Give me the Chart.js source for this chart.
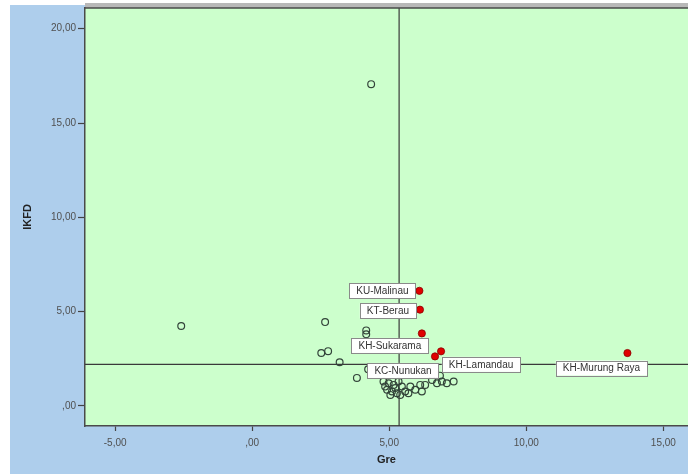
<!DOCTYPE html>
<html>
<head>
<meta charset="utf-8">
<script src="https://cdn.jsdelivr.net/npm/chart.js@4/dist/chart.umd.min.js"></script>
<style>
  html, body { margin: 0; padding: 0; background: #fff; overflow: hidden; }
  canvas { display: block; }
</style>
</head>
<body>
<canvas id="myChartScatter" width="688" height="474"></canvas>
<script>
// ordinary cases (hollow markers)
var greValues = [4.34, -2.59, 2.66, 4.16, 4.16, 2.52, 2.77, 3.19, 3.82, 4.23,
    4.79, 4.98, 4.92, 5.10, 5.22, 5.28, 5.46, 5.58, 5.77, 5.95,
    6.13, 6.31, 6.56, 6.74, 6.92, 7.10, 7.35, 5.34, 5.16, 5.04,
    5.40, 5.70, 6.19, 4.85, 6.85];
var ikfdValues = [17.06, 4.23, 4.44, 4.00, 3.80, 2.80, 2.90, 2.31, 1.48, 1.94,
    1.29, 1.20, 0.85, 0.76, 0.94, 0.67, 1.02, 0.76, 1.02, 0.85,
    1.11, 1.11, 1.37, 1.20, 1.29, 1.20, 1.29, 1.29, 1.11, 0.58,
    0.58, 0.67, 0.76, 1.02, 1.60];

// labelled cases (red markers)
var labelNames = ['KU-Malinau', 'KT-Berau', 'KH-Sukarama', 'KC-Nunukan', 'KH-Lamandau', 'KH-Murung Raya'];
var labelGre = [6.10, 6.12, 6.19, 6.67, 6.89, 13.69];
var labelIkfd = [6.10, 5.10, 3.84, 2.62, 2.89, 2.80];

// reference lines (means)
var meanGre = 5.36;
var meanIkfd = 2.20;

var xTickValues = [-5, 0, 5, 10, 15];
var xTickLabels = ['-5,00', ',00', '5,00', '10,00', '15,00'];
var yTickValues = [0, 5, 10, 15, 20];
var yTickLabels = [',00', '5,00', '10,00', '15,00', '20,00'];

var xMin = -6.1, xMax = 15.9, yMin = -1.07, yMax = 21.1;

// where each label box sits relative to its point (px)
var labelOffsets = [[-37, 0], [-32, 1], [-32, 12], [-32, 14], [40, 13], [-26, 15]];

var toPoints = function (xs, ys) {
    return xs.map(function (x, i) { return { x: x, y: ys[i] }; });
};

var backgroundPlugin = {
    id: 'spssBackground',
    beforeDraw: function (chart) {
        var ctx = chart.ctx, a = chart.chartArea;
        ctx.save();
        ctx.fillStyle = '#ffffff';
        ctx.fillRect(0, 0, chart.width, chart.height);
        ctx.fillStyle = '#AECEEC';
        ctx.fillRect(10, 5, chart.width - 10, chart.height - 5);
        ctx.fillStyle = '#CCFFCC';
        ctx.fillRect(a.left, a.top, a.right - a.left, a.bottom - a.top);
        ctx.fillStyle = '#b8b8b8';
        ctx.fillRect(a.left, a.top - 5, a.right - a.left, 5);
        ctx.restore();
    },
    afterDraw: function (chart) {
        var ctx = chart.ctx, a = chart.chartArea;
        ctx.save();
        ctx.strokeStyle = '#4a4a4a';
        ctx.lineWidth = 1.5;
        ctx.beginPath();
        ctx.moveTo(a.left, a.top);
        ctx.lineTo(a.right, a.top);
        ctx.stroke();
        ctx.restore();
    }
};

var labelPlugin = {
    id: 'caseLabels',
    afterDatasetsDraw: function (chart) {
        var ctx = chart.ctx;
        var xs = chart.scales.x, ys = chart.scales.y;
        ctx.save();
        ctx.font = '10px Arial, "Liberation Sans", sans-serif';
        ctx.textAlign = 'center';
        ctx.textBaseline = 'middle';
        labelNames.forEach(function (name, i) {
            var px = xs.getPixelForValue(labelGre[i]);
            var py = ys.getPixelForValue(labelIkfd[i]);
            var cx = px + labelOffsets[i][0];
            var cy = py + labelOffsets[i][1];
            var w = ctx.measureText(name).width + 14;
            var h = 15;
            ctx.fillStyle = '#ffffff';
            ctx.fillRect(cx - w / 2, cy - h / 2, w, h);
            ctx.strokeStyle = '#8a8a8a';
            ctx.lineWidth = 1;
            ctx.strokeRect(Math.round(cx - w / 2) + 0.5, Math.round(cy - h / 2) + 0.5, Math.round(w), h);
            ctx.fillStyle = '#333333';
            ctx.fillText(name, cx, cy + 0.5);
        });
        ctx.restore();
    }
};

var ctx = document.getElementById('myChartScatter');
var myChart = new Chart(ctx, {
    type: 'scatter',
    plugins: [backgroundPlugin, labelPlugin],
    data: {
        datasets: [{
                data: toPoints(greValues, ikfdValues),
                pointRadius: 3.4,
                backgroundColor: 'rgba(0,0,0,0)',
                borderColor: '#33443a',
                borderWidth: 1.2,
                order: 1
            }, {
                data: toPoints(labelGre, labelIkfd),
                pointRadius: 3.6,
                backgroundColor: '#e00000',
                borderColor: '#8a0000',
                borderWidth: 0.8,
                order: 1
            }, {
                data: [{ x: meanGre, y: yMin }, { x: meanGre, y: yMax }],
                showLine: true,
                pointRadius: 0,
                borderColor: '#3a3a3a',
                borderWidth: 1.2,
                order: 2
            }, {
                data: [{ x: xMin, y: meanIkfd }, { x: xMax, y: meanIkfd }],
                showLine: true,
                pointRadius: 0,
                borderColor: '#3a3a3a',
                borderWidth: 1.2,
                order: 2
            }]
    },
    options: {
        responsive: false,
        animation: false,
        layout: { autoPadding: false, padding: { left: 0, top: 8, right: 0, bottom: 0 } },
        plugins: {
            legend: { display: false },
            tooltip: { enabled: false }
        },
        scales: {
            x: {
                type: 'linear',
                min: xMin,
                max: xMax,
                afterFit: function (scale) {
                    scale.height = 48;
                    scale.paddingLeft = 0;
                    scale.paddingRight = 0;
                },
                afterBuildTicks: function (scale) {
                    scale.ticks = xTickValues.map(function (v) { return { value: v }; });
                },
                grid: { drawOnChartArea: false, drawTicks: true, tickLength: 5, tickColor: '#444', tickWidth: 1.2 },
                border: { display: true, color: '#4a4a4a', width: 1.5 },
                ticks: {
                    padding: 6,
                    color: '#505050',
                    font: { size: 10, family: 'Arial, "Liberation Sans", sans-serif' },
                    maxRotation: 0,
                    callback: function (v) { return xTickLabels[xTickValues.indexOf(v)]; }
                },
                title: {
                    display: true,
                    text: 'Gre',
                    color: '#222',
                    font: { size: 11, weight: 'bold', family: 'Arial, "Liberation Sans", sans-serif' },
                    padding: { top: 7, bottom: 7 }
                }
            },
            y: {
                type: 'linear',
                min: yMin,
                max: yMax,
                afterFit: function (scale) {
                    scale.width = 85;
                    scale.paddingTop = 0;
                    scale.paddingBottom = 0;
                },
                afterBuildTicks: function (scale) {
                    scale.ticks = yTickValues.map(function (v) { return { value: v }; });
                },
                grid: { drawOnChartArea: false, drawTicks: true, tickLength: 7, tickColor: '#444', tickWidth: 1.2 },
                border: { display: true, color: '#4a4a4a', width: 1.5 },
                ticks: {
                    padding: 2,
                    color: '#505050',
                    font: { size: 10, family: 'Arial, "Liberation Sans", sans-serif' },
                    callback: function (v) { return yTickLabels[yTickValues.indexOf(v)]; }
                },
                title: {
                    display: true,
                    text: 'IKFD',
                    color: '#222',
                    font: { size: 11, weight: 'bold', family: 'Arial, "Liberation Sans", sans-serif' },
                    padding: { top: 21, bottom: 0 }
                }
            }
        }
    }
});
</script>
</body>
</html>
